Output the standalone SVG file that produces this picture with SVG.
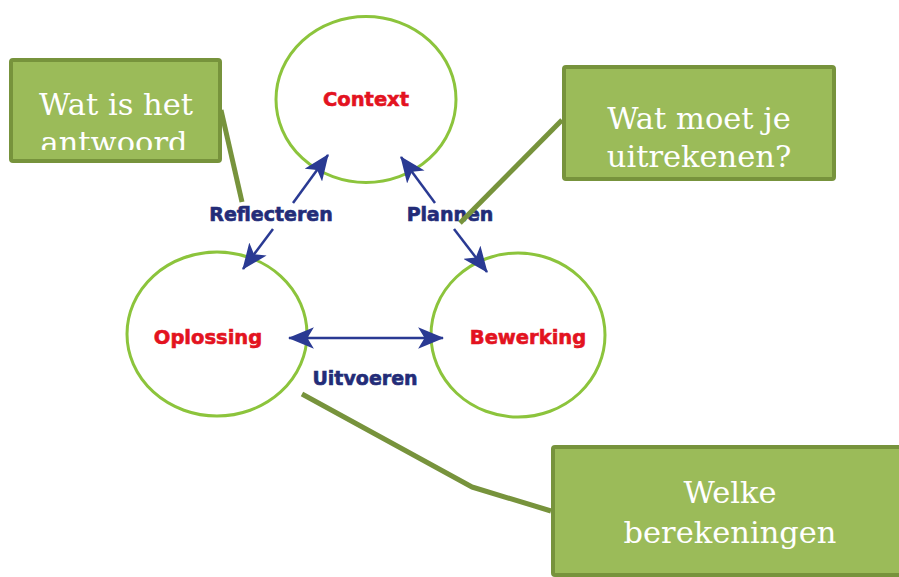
<svg xmlns="http://www.w3.org/2000/svg" width="899" height="577" viewBox="0 0 899 577">
<style>
.circ{fill:#fff;stroke:#8cc43c;stroke-width:3}
.red{font-family:"DejaVu Sans",Verdana,sans-serif;font-weight:bold;font-size:19.5px;fill:#e3131f;stroke:#e3131f;stroke-width:0.6;text-anchor:middle}
.blue{font-family:"DejaVu Sans",Verdana,sans-serif;font-weight:bold;font-size:19px;fill:#232c78;stroke:#232c78;stroke-width:0.6;text-anchor:middle}
.arr{stroke:#2a3a93;stroke-width:2.5;fill:none}
.call{stroke:#77933c;stroke-width:5;fill:none;stroke-linejoin:round}
.box{fill:#9bbb59;stroke:#77933c;stroke-width:4}
.bt{font-family:"DejaVu Serif","Liberation Serif",serif;font-size:30.5px;fill:#fff;text-anchor:middle}
</style>
<defs>
<marker id="ah" markerUnits="userSpaceOnUse" markerWidth="26" markerHeight="22" refX="23" refY="10" orient="auto-start-reverse" viewBox="0 0 24 20">
<path d="M0,0 L24,10 L0,20 L6,10 z" fill="#2a3a93"/>
</marker>
<clipPath id="c1"><rect x="13" y="60" width="206" height="90"/></clipPath>
<clipPath id="c3"><rect x="555" y="449" width="344" height="118"/></clipPath>
</defs>
<g id="context"><ellipse class="circ" cx="366" cy="99.5" rx="90" ry="83"/><text class="red" x="366" y="106">Context</text></g>
<g id="oplossing"><ellipse class="circ" cx="217" cy="334" rx="90" ry="82"/><text class="red" x="208" y="344">Oplossing</text></g>
<g id="bewerking"><ellipse class="circ" cx="518" cy="335" rx="87" ry="82"/><text class="red" x="528" y="344">Bewerking</text></g>
<g id="connectors">
<line class="arr" x1="293" y1="203" x2="328" y2="155" marker-end="url(#ah)"/>
<line class="arr" x1="273" y1="229" x2="243" y2="269" marker-end="url(#ah)"/>
<line class="arr" x1="435" y1="203" x2="401" y2="157" marker-end="url(#ah)"/>
<line class="arr" x1="454" y1="229" x2="487" y2="272" marker-end="url(#ah)"/>
<line class="arr" x1="289" y1="338" x2="443" y2="338" marker-start="url(#ah)" marker-end="url(#ah)"/>
<text class="blue" x="271" y="221">Reflecteren</text>
<text class="blue" x="450" y="221">Plannen</text>
<text class="blue" x="365" y="385">Uitvoeren</text>
<polyline class="call" points="221,110 242,202"/>
<polyline class="call" points="562,120 460,223"/>
<polyline class="call" points="302,394 472,487 551,511"/>
</g>
<g id="callout1"><rect class="box" x="11" y="60" width="209" height="101" rx="2"/>
<g clip-path="url(#c1)"><text class="bt" x="116" y="115">Wat is het</text><text class="bt" x="114" y="153">antwoord</text></g></g>
<g id="callout2"><rect class="box" x="564" y="67" width="270" height="112" rx="2"/>
<text class="bt" x="699" y="129">Wat moet je</text><text class="bt" x="699" y="167">uitrekenen?</text></g>
<g id="callout3"><rect class="box" x="553" y="447" width="360" height="128" rx="2"/>
<g clip-path="url(#c3)"><text class="bt" x="730" y="503">Welke</text><text class="bt" x="730" y="543">berekeningen</text></g></g>
</svg>
